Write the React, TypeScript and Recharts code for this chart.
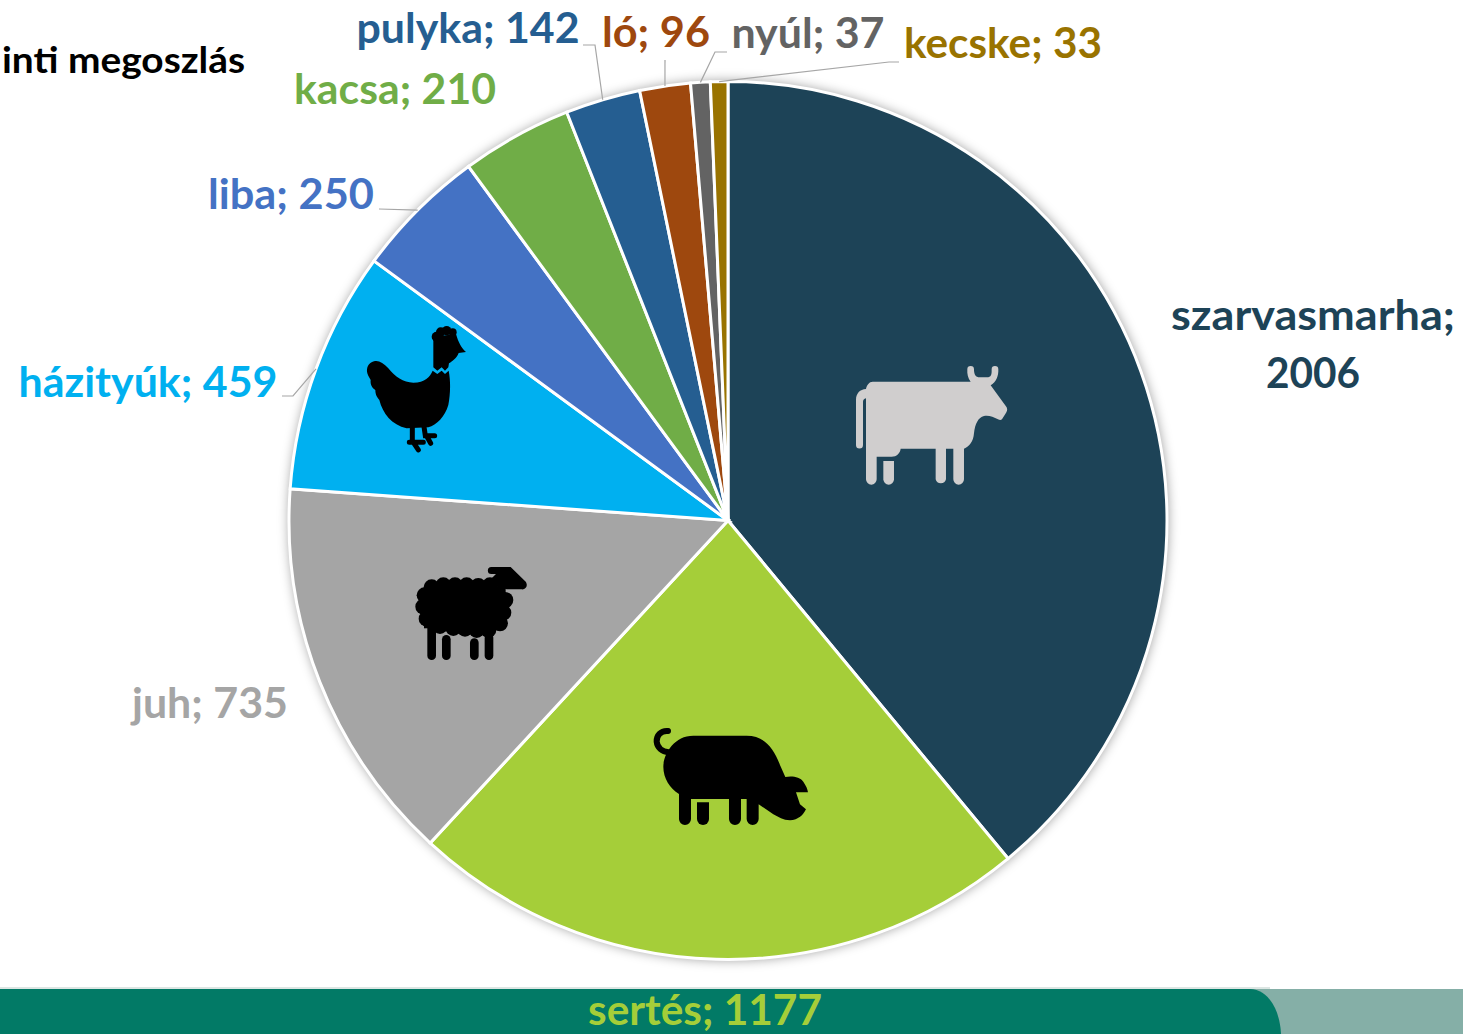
import { PieChart, Pie, Cell } from 'recharts';

const animals = ['szarvasmarha', 'sertés', 'juh', 'házityúk', 'liba', 'kacsa', 'pulyka', 'ló', 'nyúl', 'kecske'];
const counts = [2006, 1177, 735, 459, 250, 210, 142, 96, 37, 33];
const colors = ['#1D4357', '#A5CE39', '#A5A5A5', '#00B0F0', '#4472C4', '#70AD47', '#255E91', '#9E480E', '#636363', '#997300'];

const chartData = animals.map((name, i) => ({ name, value: counts[i] }));

// where each label sits on the page: [centre x, baseline y]
const labelSpots = [
  [1313, 330],
  [705, 1025],
  [210, 718],
  [148, 397],
  [291, 209],
  [395, 104],
  [468, 43],
  [656, 47],
  [808, 48],
  [1003, 58],
];
// Calibri runs a bit different from Lato, so pin the label widths
const labelWidths = [284, 234, 156, 259, 166, 202, 223, 108, 153, 198];

// leader elbows, the last point is the slice edge
const leaderPoints: (number[][] | null)[] = [
  null,
  null,
  null,
  [[282, 396], [293, 396]],
  [[379, 209]],
  null,
  [[583, 45], [595, 45]],
  [[665, 60]],
  [[727, 52], [715, 52]],
  [[899, 62], [889, 62]],
];

const FONT = 'Lato, "Open Sans", sans-serif';

function renderLabel(props: any) {
  const { cx, cy, midAngle, outerRadius, index } = props;
  const [x, y] = labelSpots[index];
  const rad = (midAngle * Math.PI) / 180;
  const edgeX = cx + outerRadius * Math.cos(rad);
  const edgeY = cy - outerRadius * Math.sin(rad);
  const elbow = leaderPoints[index];
  const line = elbow ? [...elbow, [edgeX, edgeY]].map((p) => p.join(',')).join(' ') : null;
  const common = {
    x,
    textAnchor: 'middle' as const,
    fontFamily: FONT,
    fontWeight: 700,
    fontSize: 42,
    fill: colors[index],
  };
  return (
    <g key={animals[index]}>
      {line && <polyline points={line} fill="none" stroke="#A6A6A6" strokeWidth={1.2} />}
      {index === 0 ? (
        <>
          <text {...common} y={y} textLength={labelWidths[0]} lengthAdjust="spacingAndGlyphs">szarvasmarha;</text>
          <text {...common} y={y + 58} textLength={94} lengthAdjust="spacingAndGlyphs">{counts[0]}</text>
        </>
      ) : (
        <text {...common} y={y} textLength={labelWidths[index]} lengthAdjust="spacingAndGlyphs">
          {`${animals[index]}; ${counts[index]}`}
        </text>
      )}
    </g>
  );
}

function Cow() {
  return (
    <g transform="translate(840 350) scale(0.3333)" fill="#D0CECE">
      <path d="M98 95 H392 C384 85 381 72 382 58 A10 10 0 0 1 402 58 C402 68 404 80 415 82 H445 C456 80 455 68 455 58 A10 10 0 0 1 475 58 C476 78 468 98 452 106 L500 172 C504 180 500 186 496 192 L486 208 C482 212 478 210 474 208 C460 200 445 195 432 198 C415 202 405 222 402 250 C400 275 388 290 372 296 V388 A16 16 0 0 1 340 388 V296 H318 V388 A16 16 0 0 1 287 388 V296 H182 C180 310 170 320 155 320 H110 V388 A16 16 0 0 1 78 388 V145 C72 147 69 150 69 156 V285 A10 10 0 0 1 48 285 V150 C48 130 60 118 78 117 C80 105 88 95 98 95 Z" />
      <path d="M130 333 H162 V388 A16 16 0 0 1 130 388 Z" />
    </g>
  );
}

function Pig() {
  return (
    <g transform="translate(640 715) scale(0.3333)" fill="#000">
      <path d="M84 48 C62 46 49 62 50 80 C52 98 66 110 86 112" fill="none" stroke="#000" strokeWidth={18} strokeLinecap="round" />
      <path d="M160 62 H320 C370 62 400 95 420 150 L436 186 C455 182 480 185 490 200 C498 212 503 222 504 232 H468 L480 268 L498 283 C490 300 475 315 450 316 C430 316 415 305 400 298 L356 268 V312 A18 18 0 0 1 320 312 V252 H303 V312 A18 18 0 0 1 267 312 V252 H153 V312 A18 18 0 0 1 117 312 V237 C90 220 70 190 70 155 C70 120 100 62 160 62 Z" />
      <path d="M171 262 H207 V312 A18 18 0 0 1 171 312 Z" />
    </g>
  );
}

const woolBumps = [
  [245, 832], [280, 826], [315, 826], [350, 826], [385, 828], [420, 826],
  [224, 856], [220, 890], [230, 926],
  [270, 948], [310, 954], [345, 956], [380, 960], [415, 960], [450, 940],
  [466, 870], [460, 908],
];
const sheepLegs = [
  [232, 940], [276, 975], [360, 985], [404, 970],
];

function Sheep() {
  return (
    <g transform="translate(350 310) scale(0.3333)" fill="#000">
      <rect x={222} y={830} width={245} height={125} />
      {woolBumps.map(([cx, cy]) => <circle key={`${cx}-${cy}`} cx={cx} cy={cy} r={24} />)}
      {sheepLegs.map(([x, y]) => <rect key={x} x={x} y={y} width={26} height={1050 - y} rx={13} />)}
      <path d="M424 771 H482 L528 816 C535 830 526 840 514 838 H470 L440 830 L420 810 L438 792 H424 A10 10 0 0 1 424 771 Z" />
    </g>
  );
}

function Hen() {
  return (
    <g transform="translate(350 310) scale(0.3333)" fill="#000">
      <circle cx={260} cy={80} r={15} />
      <circle cx={272} cy={66} r={14} />
      <circle cx={290} cy={62} r={14} />
      <circle cx={308} cy={67} r={12} />
      <path d="M250 80 L318 72 C325 95 332 112 348 126 L326 129 C320 145 305 155 297 160 L295 172 L285 182 L275 172 L262 182 L250 172 Z" />
      <path d="M248 182 L262 192 L275 182 L285 192 L296 182 C302 210 302 250 295 285 C285 320 260 345 235 352 L170 355 C125 345 98 310 88 270 C82 262 76 255 76 240 C68 235 60 225 62 210 C60 205 55 200 52 190 C48 175 55 158 72 154 C85 150 100 158 115 175 C135 200 160 218 190 218 C225 218 240 200 248 182 Z" />
      <path d="M187 352 V396 M178 397 H220 M193 402 L205 420 M222 350 L226 377 H254 M232 382 L242 400" fill="none" stroke="#000" strokeWidth={15} strokeLinecap="round" />
    </g>
  );
}

export default function App() {
  return (
    <div style={{ position: 'absolute', left: 0, top: 0, width: 1463, height: 1034, overflow: 'hidden', background: '#fff' }}>
      <svg width={1463} height={1034} style={{ position: 'absolute', left: 0, top: 0 }}>
        <rect x={0} y={987} width={1270} height={2} fill="#DCE6E3" />
        <rect x={1200} y={989} width={263} height={45} fill="#85AFA7" />
        <path d="M0 989 H1250 C1268 989 1280 1010 1281 1034 H0 Z" fill="#027A66" />
        <text x={245} y={73} textAnchor="end" fontFamily={FONT} fontWeight={700} fontSize={37} textLength={243} lengthAdjust="spacingAndGlyphs" fill="#000">
          inti megoszlás
        </text>
      </svg>
      <div
        style={{
          position: 'absolute',
          left: 290,
          top: 82,
          width: 877,
          height: 877,
          borderRadius: '50%',
          boxShadow: '0 0 12px 1px rgba(0,0,0,0.4)',
        }}
      />
      <div style={{ position: 'absolute', left: 0, top: 0 }}>
        <PieChart width={1463} height={1034} margin={{ top: 0, right: 0, bottom: 0, left: 0 }}>
          <Pie
            data={chartData}
            dataKey="value"
            nameKey="name"
            cx={728}
            cy={520.5}
            outerRadius={439}
            startAngle={90}
            endAngle={-270}
            stroke="#fff"
            strokeWidth={3}
            label={renderLabel}
            labelLine={false}
            isAnimationActive={false}
          >
            {animals.map((name, i) => (
              <Cell key={name} fill={colors[i]} />
            ))}
          </Pie>
        </PieChart>
      </div>
      <svg width={1463} height={1034} style={{ position: 'absolute', left: 0, top: 0, pointerEvents: 'none' }}>
        <Cow />
        <Pig />
        <Sheep />
        <Hen />
      </svg>
    </div>
  );
}
